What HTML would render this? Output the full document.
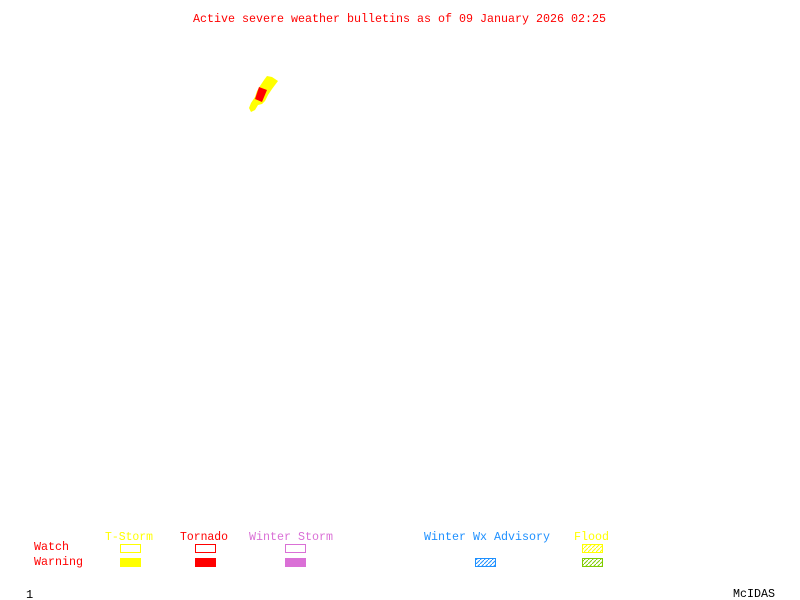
<!DOCTYPE html>
<html><head><meta charset="utf-8"><style>
html,body{margin:0;padding:0;background:#fff;}
svg{display:block;}
text{font-family:"Liberation Mono",monospace;}
</style></head><body>
<svg width="800" height="600" viewBox="0 0 800 600" xmlns="http://www.w3.org/2000/svg">
<defs>
<pattern id="hb" width="4" height="4" patternUnits="userSpaceOnUse"><path d="M0,4 L4,0" stroke="#1e90ff" stroke-width="1"/></pattern>
<pattern id="hy" width="4" height="4" patternUnits="userSpaceOnUse"><path d="M0,4 L4,0" stroke="#ffff00" stroke-width="1"/></pattern>
<pattern id="hg" width="4" height="4" patternUnits="userSpaceOnUse"><path d="M0,4 L4,0" stroke="#7fcc00" stroke-width="1"/></pattern>
</defs>
<text x="193" y="22" fill="#ff0000" font-size="12" textLength="413" lengthAdjust="spacingAndGlyphs">Active severe weather bulletins as of 09 January 2026 02:25</text>
<polygon points="267,76 272,77 278,81 272,89 268,95 265,101 262,104 258,105 255,110 251,112 249,108 251,103 255,97 257,91 260,86 264,80" fill="#ffff00"/>
<polygon points="259,87 267,90 262,102 255,99" fill="#ff0000"/>
<g font-size="12">
<text x="105" y="540" fill="#ffff00" textLength="48" lengthAdjust="spacingAndGlyphs">T-Storm</text>
<text x="180" y="540" fill="#ff0000" textLength="48" lengthAdjust="spacingAndGlyphs">Tornado</text>
<text x="249" y="540" fill="#da70d6" textLength="84" lengthAdjust="spacingAndGlyphs">Winter Storm</text>
<text x="424" y="540" fill="#1e90ff" textLength="126" lengthAdjust="spacingAndGlyphs">Winter Wx Advisory</text>
<text x="574" y="540" fill="#ffff00" textLength="35" lengthAdjust="spacingAndGlyphs">Flood</text>
<text x="34" y="550" fill="#ff0000" textLength="35" lengthAdjust="spacingAndGlyphs">Watch</text>
<text x="34" y="565" fill="#ff0000" textLength="49" lengthAdjust="spacingAndGlyphs">Warning</text>
<text x="26" y="598" fill="#000">1</text>
<text x="733" y="597" fill="#000" textLength="42" lengthAdjust="spacingAndGlyphs">McIDAS</text>
</g>
<rect x="120.5" y="544.5" width="20" height="8" fill="none" stroke="#ffff00"/>
<rect x="120" y="558" width="21" height="9" fill="#ffff00"/>
<rect x="195.5" y="544.5" width="20" height="8" fill="none" stroke="#ff0000"/>
<rect x="195" y="558" width="21" height="9" fill="#ff0000"/>
<rect x="285.5" y="544.5" width="20" height="8" fill="none" stroke="#da70d6"/>
<rect x="285" y="558" width="21" height="9" fill="#da70d6"/>
<rect x="475.5" y="558.5" width="20" height="8" fill="url(#hb)" stroke="#1e90ff"/>
<rect x="582.5" y="544.5" width="20" height="8" fill="url(#hy)" stroke="#ffff00"/>
<rect x="582.5" y="558.5" width="20" height="8" fill="url(#hg)" stroke="#7fcc00"/>
</svg>
</body></html>
